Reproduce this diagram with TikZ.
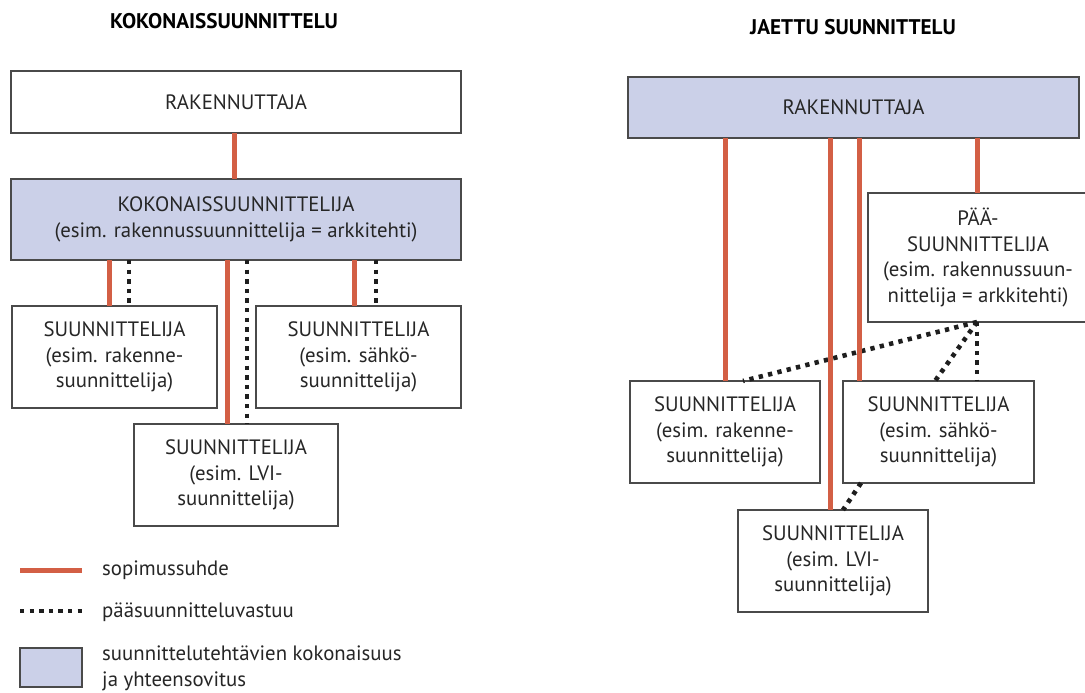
\documentclass[tikz,border=0pt]{standalone}
\usepackage{fontspec}
\setmainfont{PT Sans}
\definecolor{redc}{HTML}{D35F45}
\definecolor{lav}{HTML}{CBD0E8}
\definecolor{boxc}{HTML}{4A4A4A}
\definecolor{dotc}{HTML}{1E1E1E}
\definecolor{txt}{HTML}{262626}
\begin{document}
\begin{tikzpicture}[x=1pt,y=-1pt,
  box/.style={draw=boxc, line width=1.3pt, fill=white, inner sep=0pt, outer sep=0pt,
    align=center, text=txt, font=\fontsize{20.8}{25.5}\selectfont, anchor=north west},
  lavbox/.style={box, fill=lav},
  redline/.style={draw=redc, line width=5pt},
  dotline/.style={draw=dotc, line width=4.6pt, dash pattern=on 4.3pt off 5.3pt},
  titletext/.style={font=\fontsize{21.2}{24}\selectfont\bfseries, text=black, inner sep=0pt},
  legtext/.style={font=\fontsize{20.8}{25.5}\selectfont, text=txt, inner sep=0pt, anchor=base west}
]
\useasboundingbox (0,0) rectangle (1085,693);

% ---------- titles
\node[titletext] (t1) at (224,21) {KOKONAISSUUNNITTELU};
\node[titletext] (t2) at (853,27) {JAETTU SUUNNITTELU};

% ---------- left: kokonaissuunnittelu
\node[box, minimum width=450pt, minimum height=62pt] (rakL) at (11,71) {RAKENNUTTAJA};
\node[lavbox, minimum width=450pt, minimum height=81pt] (kok) at (11,179)
  {KOKONAISSUUNNITTELIJA\\(esim. rakennussuunnittelija = arkkitehti)};
\node[box, minimum width=205pt, minimum height=102pt] (s1L) at (12,306)
  {SUUNNITTELIJA\\(esim. rakenne-\\suunnittelija)};
\node[box, minimum width=205pt, minimum height=102pt] (s2L) at (256,306)
  {SUUNNITTELIJA\\(esim. sähkö-\\suunnittelija)};
\node[box, minimum width=204pt, minimum height=102pt] (s3L) at (134,424)
  {SUUNNITTELIJA\\(esim. LVI-\\suunnittelija)};

\coordinate (xa) at (234,0);
\coordinate (xb) at (109,0);
\coordinate (xc) at (129,0);
\coordinate (xd) at (227,0);
\coordinate (xe) at (247,0);
\coordinate (xf) at (354,0);
\coordinate (xg) at (376,0);

\draw[redline] (rakL.south -| xa) -- (kok.north -| xa);
\draw[redline] (kok.south -| xb) -- (s1L.north -| xb);
\draw[dotline] (kok.south -| xc) -- (s1L.north -| xc);
\draw[redline] (kok.south -| xd) -- (s3L.north -| xd);
\draw[dotline] (kok.south -| xe) -- (s3L.north -| xe);
\draw[redline] (kok.south -| xf) -- (s2L.north -| xf);
\draw[dotline] (kok.south -| xg) -- (s2L.north -| xg);

% ---------- right: jaettu suunnittelu
\node[lavbox, minimum width=451pt, minimum height=61pt] (rakR) at (628,77) {RAKENNUTTAJA};
\node[box, minimum width=220pt, minimum height=129pt] (paa) at (868,193)
  {PÄÄ-\\SUUNNITTELIJA\\(esim. rakennussuun-\\nittelija = arkkitehti)};
\node[box, minimum width=190pt, minimum height=102pt] (s1R) at (630,381)
  {SUUNNITTELIJA\\(esim. rakenne-\\suunnittelija)};
\node[box, minimum width=191pt, minimum height=102pt] (s2R) at (843,381)
  {SUUNNITTELIJA\\(esim. sähkö-\\suunnittelija)};
\node[box, minimum width=190pt, minimum height=102pt] (s3R) at (738,510)
  {SUUNNITTELIJA\\(esim. LVI-\\suunnittelija)};

\coordinate (xh) at (725,0);
\coordinate (xi) at (830,0);
\coordinate (xj) at (859,0);
\coordinate (xk) at (977,0);
\coordinate (xl) at (743,0);
\coordinate (xm) at (935,0);
\coordinate (xn) at (861,0);
\coordinate (xo) at (843,0);

\draw[dotline] (paa.south -| xk) -- (s1R.north -| xl);
\draw[dotline] (paa.south -| xk) -- (s2R.north -| xm);
\draw[dotline] (paa.south -| xk) -- (s2R.north -| xk);
\draw[dotline] (s2R.south -| xn) -- (s3R.north -| xo);

\draw[redline] (rakR.south -| xh) -- (s1R.north -| xh);
\draw[redline] (rakR.south -| xi) -- (s3R.north -| xi);
\draw[redline] (rakR.south -| xj) -- (s2R.north -| xj);
\draw[redline] (rakR.south -| xk) -- (paa.north -| xk);

% ---------- legend
\coordinate (la) at (20,570);
\coordinate (lb) at (82,570);
\draw[redline] (la) -- (lb);
\node[legtext] (lt1) at (102,575) {sopimussuhde};
\coordinate (lc) at (20,611);
\coordinate (ld) at (82,611);
\draw[dotline] (lc) -- (ld);
\node[legtext] (lt2) at (102,617) {pääsuunnitteluvastuu};
\node[lavbox, minimum width=62pt, minimum height=39pt] (lbox) at (20,648) {};
\node[legtext] (lt3) at (102,660) {suunnittelutehtävien kokonaisuus};
\node[legtext] (lt4) at (102,686) {ja yhteensovitus};
\end{tikzpicture}
\end{document}
